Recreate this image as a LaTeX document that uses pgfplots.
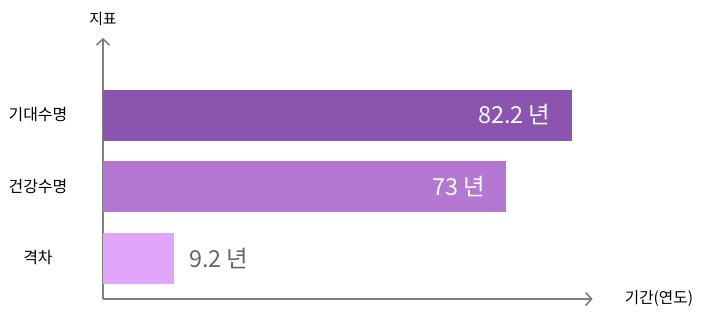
\documentclass[border=0pt]{standalone}
\usepackage{fontspec}
\setmainfont{Noto Sans CJK KR}
\usepackage{pgfplots}
\pgfplotsset{compat=1.18}
\usetikzlibrary{arrows.meta}
\definecolor{c1}{HTML}{8B55AF}
\definecolor{c2}{HTML}{B478D2}
\definecolor{c3}{HTML}{E2A5FC}
\definecolor{axisgray}{HTML}{7F7F7F}
\definecolor{valgray}{HTML}{666666}
\begin{document}
\begin{tikzpicture}
\begin{axis}[
 scale only axis, width=489.7bp, height=261bp,
 xmin=0, xmax=85.88, ymin=-0.573, ymax=3.077,
 axis lines=left,
 axis line style={draw=axisgray, line width=1.6bp, -{Straight Barb[length=6bp,width=13bp,line width=1.6bp]}},
 xtick=\empty, ytick={0,1,2}, yticklabels={격차,건강수명,기대수명},
 major tick length=0,
 yticklabel style={anchor=center, xshift=-65bp, font=\fontsize{16}{18}\selectfont, text=black},
 clip=false,
 point meta=explicit symbolic,
 every node near coord/.style={font=\fontsize{23.5}{26}\selectfont, inner sep=0pt},
]
\addplot[xbar, bar width=51bp, bar shift=0pt, fill=c1, draw=none, nodes near coords,
  nodes near coords style={anchor=east, xshift=-21bp, text=white}] coordinates {(82.2,2) [82.2 년]};
\addplot[xbar, bar width=51bp, bar shift=0pt, fill=c2, draw=none, nodes near coords,
  nodes near coords style={anchor=east, xshift=-20bp, text=white}] coordinates {(70.6,1) [73 년]};
\addplot[xbar, bar width=51bp, bar shift=0pt, fill=c3, draw=none, nodes near coords,
  nodes near coords style={anchor=west, xshift=15bp, text=valgray}] coordinates {(12.45,0) [9.2 년]};
\node[font=\fontsize{15}{17}\selectfont, anchor=center, yshift=19bp] at (rel axis cs:0,1) {지표};
\node[font=\fontsize{15.7}{18}\selectfont, anchor=west, inner sep=0pt, xshift=32bp] at (rel axis cs:1,0) {기간(연도)};
\end{axis}
\pgfresetboundingbox
\path[use as bounding box] (-103bp,-19bp) rectangle (605bp,299bp);
\end{tikzpicture}
\end{document}
